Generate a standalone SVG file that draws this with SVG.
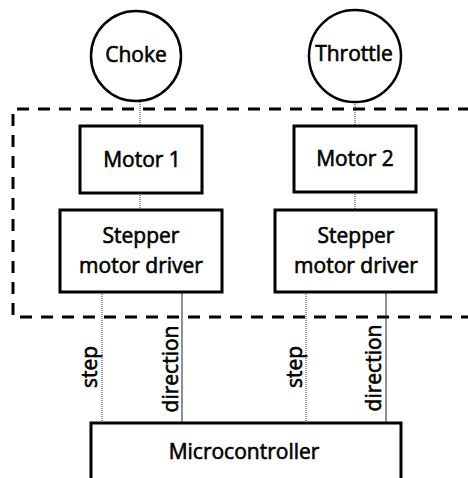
<svg xmlns="http://www.w3.org/2000/svg" width="468" height="478" viewBox="0 0 468 478">
<style>
.box{fill:#fff;stroke:#000;stroke-width:3}
.circ{fill:#fff;stroke:#000;stroke-width:2.5}
.t{font-family:"Open Sans","Liberation Sans",sans-serif;font-size:21px;fill:#000;stroke:#000;stroke-width:0.6;text-anchor:middle}
.dot{stroke:#333;stroke-width:1;stroke-dasharray:1 1;fill:none}
.sol{stroke:#222;stroke-width:1;fill:none}
.dash{fill:none;stroke:#000;stroke-width:3;stroke-dasharray:12 9}
</style>
<rect width="468" height="478" fill="#fff"/>
<path class="dash" d="M470,109 H13 V317 H470"/>
<g id="connectors">
<line class="dot" x1="140" y1="100" x2="140" y2="126"/>
<line class="dot" x1="140" y1="193" x2="140" y2="210"/>
<line class="dot" x1="355" y1="100" x2="355" y2="126"/>
<line class="dot" x1="355" y1="192" x2="355" y2="210"/>
<line class="dot" x1="102" y1="292" x2="102" y2="423"/>
<line class="sol" x1="182" y1="292" x2="182" y2="423"/>
<line class="dot" x1="306" y1="292" x2="306" y2="423"/>
<line class="sol" x1="386" y1="292" x2="386" y2="423"/>
<text class="t" transform="translate(97,367) rotate(-90)">step</text>
<text class="t" transform="translate(178,369) rotate(-90)">direction</text>
<text class="t" transform="translate(302,367) rotate(-90)">step</text>
<text class="t" transform="translate(381,368) rotate(-90)">direction</text>
</g>
<g id="choke"><circle class="circ" cx="136" cy="56" r="45"/><text class="t" x="136" y="62">Choke</text></g>
<g id="throttle"><circle class="circ" cx="355" cy="56" r="46"/><text class="t" x="354" y="61">Throttle</text></g>
<g id="motor1"><rect class="box" x="80" y="126" width="122" height="67"/><text class="t" x="142" y="167">Motor 1</text></g>
<g id="motor2"><rect class="box" x="294" y="126" width="122" height="66"/><text class="t" x="355" y="166">Motor 2</text></g>
<g id="driver1"><rect class="box" x="60" y="210" width="162" height="82"/><text class="t" x="141" y="243">Stepper</text><text class="t" x="141" y="273">motor driver</text></g>
<g id="driver2"><rect class="box" x="275" y="210" width="161" height="82"/><text class="t" x="356" y="243">Stepper</text><text class="t" x="356" y="273">motor driver</text></g>
<g id="mcu"><rect class="box" x="91" y="423" width="310" height="70"/><text class="t" x="244" y="459">Microcontroller</text></g>
</svg>
